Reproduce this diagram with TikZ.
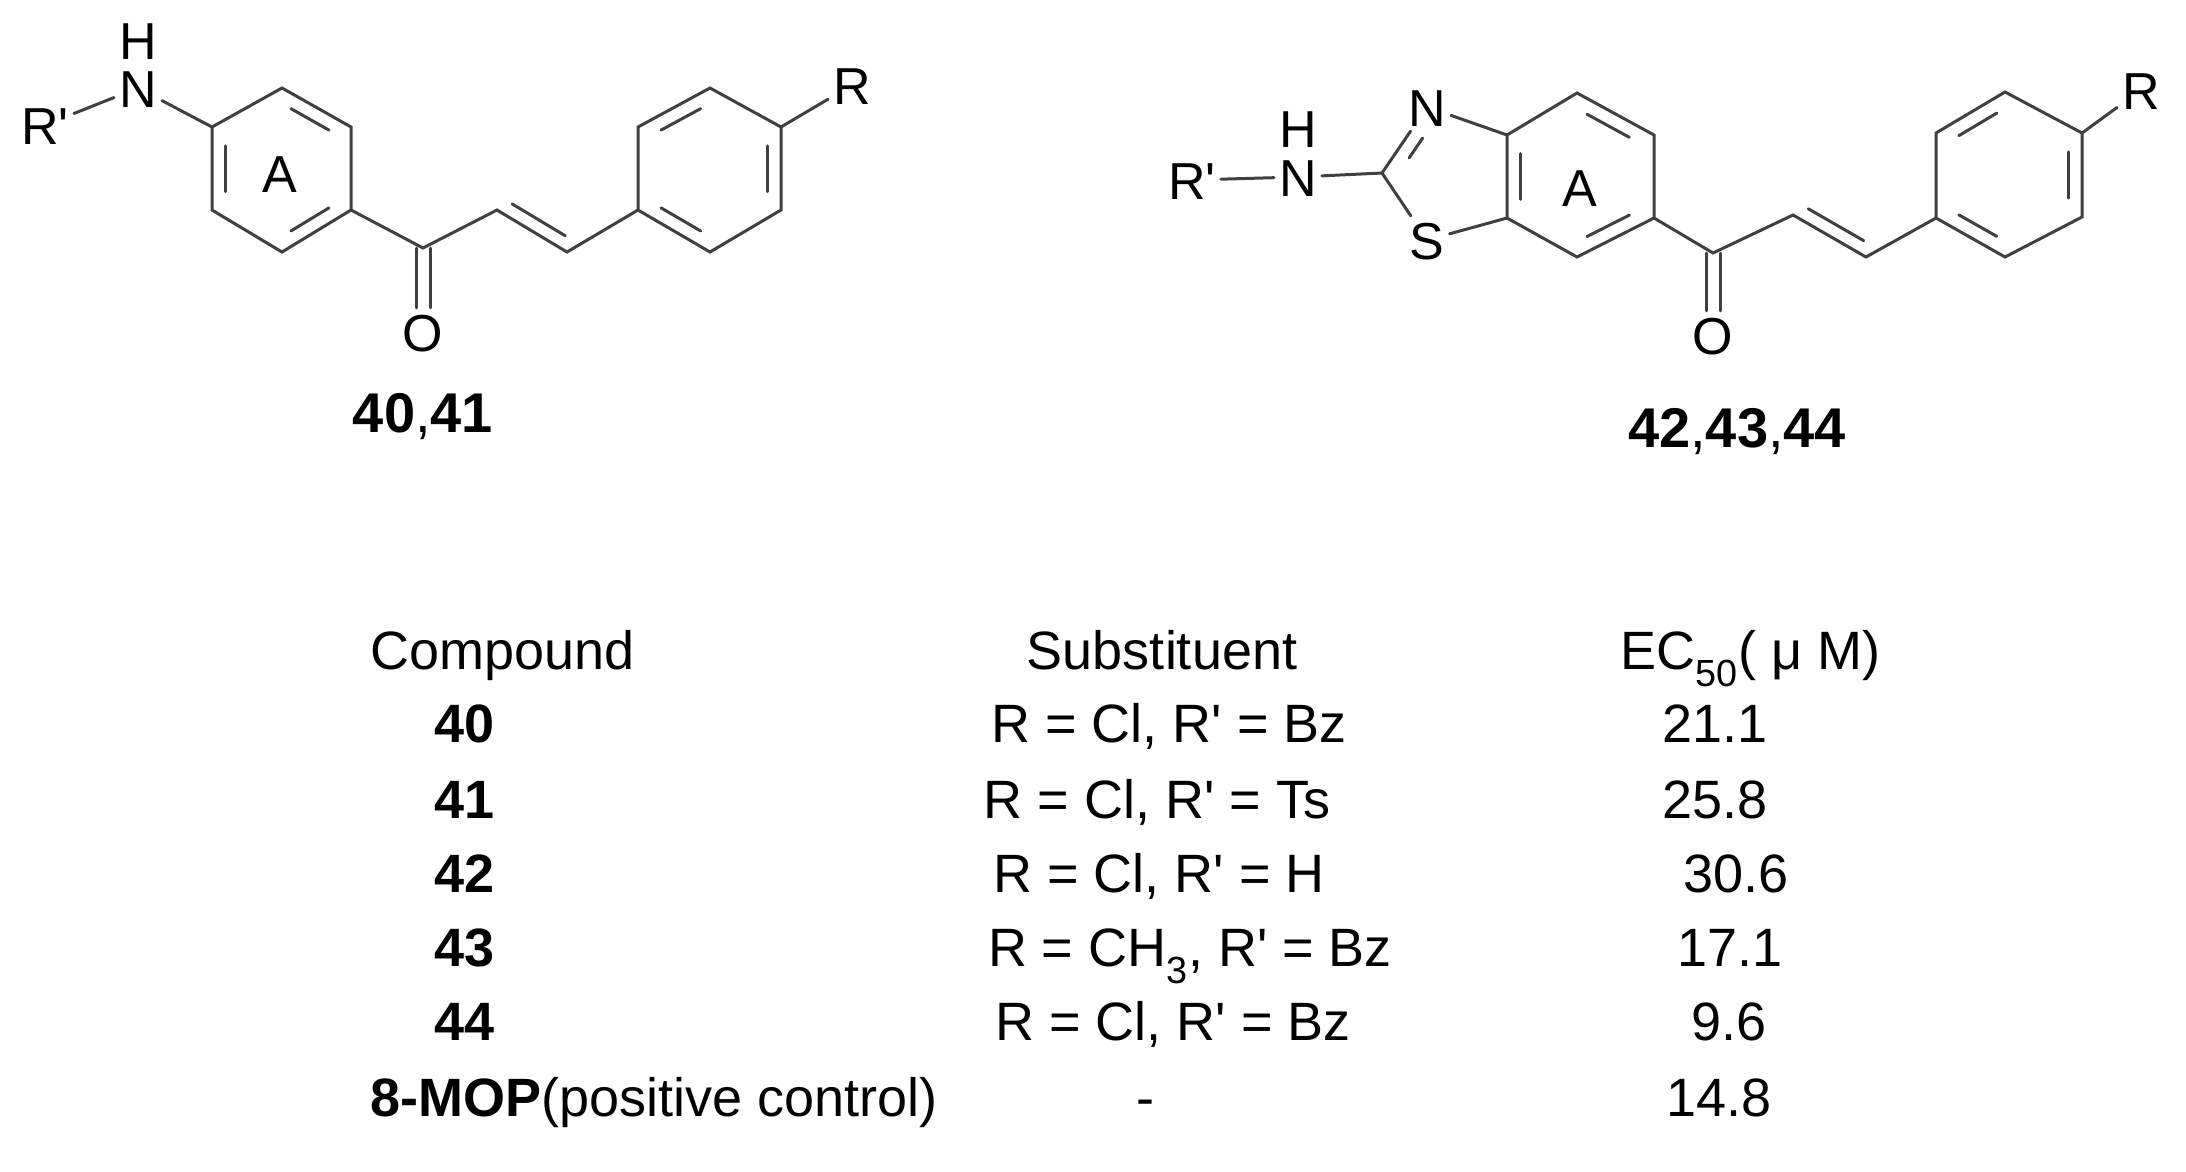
\documentclass[tikz,border=0pt]{standalone}
\usepackage{fontspec}
\setmainfont{Liberation Sans}
\usetikzlibrary{calc}
\newcommand\pr{\textquotesingle}
\tikzset{
  bond/.style={draw=black!75, line width=3pt, line cap=round},
  atom/.style={font=\fontsize{52}{52}\selectfont, inner sep=5pt, text height=38pt, text depth=0pt, anchor=center},
  lbl/.style={font=\fontsize{56}{56}\selectfont\bfseries, anchor=base},
  tab/.style={font=\fontsize{54}{54}\selectfont, anchor=base},
  tabb/.style={font=\fontsize{54}{54}\selectfont\bfseries, anchor=base},
}
\newcommand\inring[3]{%
  \draw[bond] ($($(#1)!0.16!(#2)$)!0.19!(#3)$) -- ($($(#1)!0.84!(#2)$)!0.19!(#3)$);}
\newcommand\offdbl[3]{%
  \path ($(#1)!0.12!(#2)$) coordinate (t1) ($(#1)!0.88!(#2)$) coordinate (t2);
  \draw[bond] ($(t1)!13pt!#3:(t2)$) -- ($(t2)!13pt!-#3:(t1)$);}
\begin{document}
\begin{tikzpicture}[x=1pt,y=-1pt]
\useasboundingbox (0,0) rectangle (2186,1171);
% ---------- left molecule ----------
\foreach \n/\x/\y in {a1/282/88,a2/351/127,a3/351/210,a4/282/252,a5/212/210,a6/212/127,ac/282/170,
  c1/423/248,c2/497/210,c3/567/252,
  b1/710/88,b2/781/127,b3/781/210,b4/710/252,b5/638/210,b6/638/127,bc/710/170}
  \coordinate (\n) at (\x,\y);
\node[atom] (N1) at (138,88) {N};
\node[atom] (H1) at (138,40) {H};
\node[atom] (Rp1) at (45,125) {R\pr};
\node[atom] (O1) at (423,332) {O};
\node[atom] (R1) at (852,85) {R};
\node[atom] (A1) at (280,173) {A};
\draw[bond] (a1)--(a2)--(a3)--(a4)--(a5)--(a6)--cycle;
\inring{a1}{a2}{ac}\inring{a5}{a6}{ac}\inring{a3}{a4}{ac}
\draw[bond] (b1)--(b2)--(b3)--(b4)--(b5)--(b6)--cycle;
\inring{b6}{b1}{bc}\inring{b2}{b3}{bc}\inring{b4}{b5}{bc}
\draw[bond] (Rp1)--(N1); \draw[bond] (N1)--(a6);
\draw[bond] (a3)--(c1)--(c2)--(c3)--(b5);
\offdbl{c2}{c3}{90}
\draw[bond] ($(c1)+(-7,0)$) -- ($(O1.north)+(-7,0)$);
\draw[bond] ($(c1)+(7,0)$) -- ($(O1.north)+(7,0)$);
\draw[bond] (b2)--(R1);
\node[lbl] (L1) at (423,432) {40{\mdseries,}41};
% ---------- right molecule ----------
\foreach \n/\x/\y in {d1/1577/93,d2/1654/135,d3/1654/218,d4/1577/257,d5/1507/218,d6/1507/135,dc/1577/176,
  s2/1382/173,e1/1713/253,e2/1793/215,e3/1866/257,
  f1/2005/92,f2/2082/133,f3/2082/217,f4/2005/257,f5/1936/218,f6/1936/133,fc/2009/175}
  \coordinate (\n) at (\x,\y);
\coordinate (tc) at (1450,172);
\node[atom] (N2) at (1427,107) {N};
\node[atom] (S2) at (1427,240) {S};
\node[atom] (N3) at (1298,177) {N};
\node[atom] (H3) at (1298,128) {H};
\node[atom] (Rp2) at (1192,180) {R\pr};
\node[atom] (O2) at (1713,335) {O};
\node[atom] (R2) at (2141,90) {R};
\node[atom] (A2) at (1580,187) {A};
\draw[bond] (d1)--(d2)--(d3)--(d4)--(d5)--(d6)--cycle;
\inring{d1}{d2}{dc}\inring{d6}{d5}{dc}\inring{d3}{d4}{dc}
\draw[bond] (N2)--(d6); \draw[bond] (S2)--(d5);
\draw[bond] (s2)--(N2); \draw[bond] (s2)--(S2);
\draw[bond] ($(s2)!0.3!(N2.center)!0.25!(tc)$) -- ($(s2)!0.7!(N2.center)!0.25!(tc)$);
\draw[bond] (N3)--(s2); \draw[bond] (Rp2)--(N3);
\draw[bond] (f1)--(f2)--(f3)--(f4)--(f5)--(f6)--cycle;
\inring{f6}{f1}{fc}\inring{f2}{f3}{fc}\inring{f4}{f5}{fc}
\draw[bond] (d3)--(e1)--(e2)--(e3)--(f5);
\offdbl{e2}{e3}{90}
\draw[bond] ($(e1)+(-7,0)$) -- ($(O2.north)+(-7,0)$);
\draw[bond] ($(e1)+(7,0)$) -- ($(O2.north)+(7,0)$);
\draw[bond] (f2)--(R2);
\node[lbl] (L2) at (1737,447) {42{\mdseries,}43{\mdseries,}44};
% ---------- table ----------
\node[tab,anchor=base west] (h1) at (367,669) {Compound};
\node[tab] (h2) at (1162,669) {Substituent};
\node[tab,anchor=base west] (h3) at (1617,669) {EC\textsubscript{50}( μ M)};
\node[tabb] (k1) at (465,742) {40};
\node[tabb] (k2) at (465,818) {41};
\node[tabb] (k3) at (465,892) {42};
\node[tabb] (k4) at (465,966) {43};
\node[tabb] (k5) at (465,1040) {44};
\node[tab,anchor=base west] (k6) at (367,1116) {\textbf{8-MOP}(positive control)};
\node[tab] (s1) at (1169,742) {R = Cl, R\pr{} = Bz};
\node[tab] (s2t) at (1157,818) {R = Cl, R\pr{} = Ts};
\node[tab] (s3) at (1159,892) {R = Cl, R\pr{} = H};
\node[tab] (s4) at (1190,966) {R = CH\textsubscript{3}, R\pr{} = Bz};
\node[tab] (s5) at (1173,1040) {R = Cl, R\pr{} = Bz};
\node[tab] (s6) at (1145,1116) {-};
\node[tab] (v1) at (1715,742) {21.1};
\node[tab] (v2) at (1715,818) {25.8};
\node[tab] (v3) at (1736,892) {30.6};
\node[tab] (v4) at (1730,966) {17.1};
\node[tab] (v5) at (1729,1040) {9.6};
\node[tab] (v6) at (1719,1116) {14.8};
\end{tikzpicture}
\end{document}
